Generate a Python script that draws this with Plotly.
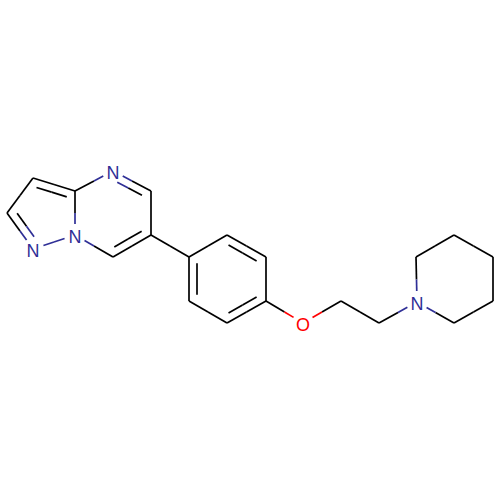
import plotly.graph_objects as go

# Atom positions (pixels, y going down)
atom_x = [33, 75, 113, 151, 151, 113, 75, 33, 7,
          189, 227, 266, 266, 227, 189,
          303, 341, 379, 417, 416, 454, 493, 493, 454]
atom_y = [178, 191, 171, 191, 235, 257, 235, 249, 213,
          257, 235, 257, 301, 323, 301,
          323, 301, 323, 302, 257, 235, 257, 301, 323]
atom_label = ["", "", "N", "", "", "", "N", "N", "",
              "", "", "", "", "", "",
              "O", "", "", "N", "", "", "", "", ""]

# Bonds as atom index pairs
bond_a = [0, 1, 2, 3, 4, 5, 6, 7, 8, 1, 4, 9, 10, 11, 12, 13, 14, 12, 15, 16, 17, 18, 19, 20, 21, 22, 23]
bond_b = [1, 2, 3, 4, 5, 6, 7, 8, 0, 6, 9, 10, 11, 12, 13, 14, 9, 15, 16, 17, 18, 19, 20, 21, 22, 23, 18]

# Double bonds: which bond (a, b) and the ring its inner line sits in
double_a = [0, 2, 4, 7, 9, 11, 13]
double_b = [1, 3, 5, 8, 14, 10, 12]
double_ring = [0, 1, 1, 0, 2, 2, 2]
rings = [[0, 1, 6, 7, 8], [1, 2, 3, 4, 5, 6], [9, 10, 11, 12, 13, 14]]

N_COLOR = "#2f2f96"
O_COLOR = "#ff0000"
BLACK = "#000000"
GAP = 11        # space left round a label
INNER = 8       # distance of the inner line of a double bond
SHRINK = 0.14
LABEL_DROP = 3  # plotly sets middle-centered text a little high


def atom_color(i):
    return {"N": N_COLOR, "O": O_COLOR}.get(atom_label[i], BLACK)


segments = {BLACK: ([], []), N_COLOR: ([], []), O_COLOR: ([], [])}


def add_seg(color, x0, y0, x1, y1):
    segments[color][0].extend([x0, x1, None])
    segments[color][1].extend([y0, y1, None])


def add_half_bond(x0, y0, x1, y1, i, j, start_trim=0.0, end_trim=0.0):
    # colour each half of the bond after the atom at that end
    dx, dy = x1 - x0, y1 - y0
    length = (dx * dx + dy * dy) ** 0.5
    t0 = start_trim / length
    t1 = 1 - end_trim / length
    mx, my = x0 + dx / 2, y0 + dy / 2
    add_seg(atom_color(i), x0 + dx * t0, y0 + dy * t0, mx, my)
    add_seg(atom_color(j), mx, my, x0 + dx * t1, y0 + dy * t1)


for a, b in zip(bond_a, bond_b):
    add_half_bond(atom_x[a], atom_y[a], atom_x[b], atom_y[b], a, b,
                  GAP if atom_label[a] else 0, GAP if atom_label[b] else 0)

for a, b, r in zip(double_a, double_b, double_ring):
    cx = sum(atom_x[k] for k in rings[r]) / len(rings[r])
    cy = sum(atom_y[k] for k in rings[r]) / len(rings[r])
    x0, y0, x1, y1 = atom_x[a], atom_y[a], atom_x[b], atom_y[b]
    dx, dy = x1 - x0, y1 - y0
    length = (dx * dx + dy * dy) ** 0.5
    nx, ny = -dy / length, dx / length
    if nx * (cx - x0) + ny * (cy - y0) < 0:
        nx, ny = -nx, -ny
    sx0 = x0 + dx * SHRINK + nx * INNER
    sy0 = y0 + dy * SHRINK + ny * INNER
    sx1 = x1 - dx * SHRINK + nx * INNER
    sy1 = y1 - dy * SHRINK + ny * INNER
    add_half_bond(sx0, sy0, sx1, sy1, a, b,
                  3 if atom_label[a] else 0, 3 if atom_label[b] else 0)

fig = go.Figure()

for color, (xs, ys) in segments.items():
    fig.add_trace(go.Scatter(x=xs, y=ys, mode="lines",
                             line=dict(color=color, width=1.7),
                             hoverinfo="skip", showlegend=False))

label_idx = [i for i, t in enumerate(atom_label) if t]
fig.add_trace(go.Scatter(
    x=[atom_x[i] for i in label_idx],
    y=[atom_y[i] + LABEL_DROP for i in label_idx],
    mode="text",
    text=[atom_label[i] for i in label_idx],
    textposition="middle center",
    textfont=dict(family="Liberation Sans", size=18,
                  color=[atom_color(i) for i in label_idx]),
    hoverinfo="skip", showlegend=False))

fig.update_layout(
    width=500, height=500,
    margin=dict(l=0, r=0, t=0, b=0),
    paper_bgcolor="white", plot_bgcolor="white",
    xaxis=dict(range=[0, 500], visible=False),
    yaxis=dict(range=[500, 0], visible=False),
)

# the page's default body margin would push the plot 8px off
fig.write_html("out.html", config=dict(displayModeBar=False),
               post_script="document.body.style.margin='0';document.documentElement.style.overflow='hidden';")
